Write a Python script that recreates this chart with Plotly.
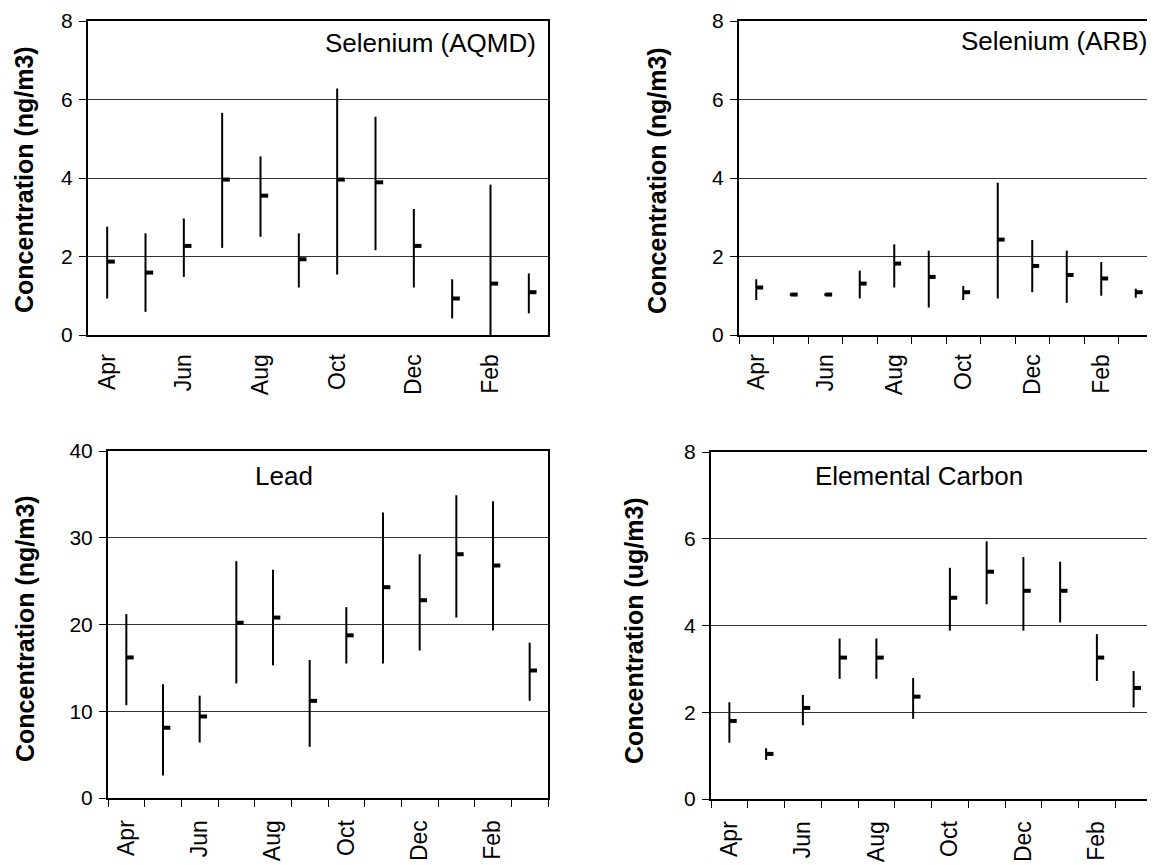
import plotly.graph_objects as go

months = ["Apr", "May", "Jun", "Jul", "Aug", "Sep", "Oct", "Nov", "Dec", "Jan", "Feb", "Mar"]
shown_labels = ["Apr", "Jun", "Aug", "Oct", "Dec", "Feb"]

se_aqmd_high = [2.76, 2.59, 2.97, 5.66, 4.55, 2.59, 6.28, 5.56, 3.21, 1.42, 3.83, 1.57]
se_aqmd_low = [0.93, 0.59, 1.48, 2.22, 2.50, 1.21, 1.54, 2.16, 1.21, 0.42, 0.00, 0.55]
se_aqmd_mean = [1.87, 1.59, 2.27, 3.96, 3.55, 1.93, 3.96, 3.89, 2.27, 0.93, 1.31, 1.09]

se_arb_high = [1.42, 1.06, 1.06, 1.64, 2.31, 2.15, 1.25, 3.88, 2.42, 2.15, 1.86, 1.18]
se_arb_low = [0.89, 1.00, 1.00, 0.93, 1.21, 0.70, 0.89, 0.93, 1.09, 0.82, 1.00, 0.95]
se_arb_mean = [1.21, 1.03, 1.03, 1.31, 1.82, 1.48, 1.09, 2.43, 1.76, 1.53, 1.44, 1.09]

lead_high = [21.2, 13.1, 11.8, 27.3, 26.3, 15.9, 22.0, 32.9, 28.1, 34.9, 34.2, 17.9]
lead_low = [10.7, 2.6, 6.4, 13.2, 15.3, 5.9, 15.5, 15.5, 17.0, 20.8, 19.3, 11.2]
lead_mean = [16.2, 8.1, 9.4, 20.2, 20.8, 11.2, 18.75, 24.3, 22.8, 28.1, 26.8, 14.7]

ec_high = [2.23, 1.17, 2.40, 3.70, 3.70, 2.79, 5.33, 5.94, 5.58, 5.47, 3.80, 2.95]
ec_low = [1.30, 0.90, 1.70, 2.77, 2.77, 1.85, 3.88, 4.49, 3.88, 4.07, 2.72, 2.11]
ec_mean = [1.80, 1.04, 2.10, 3.26, 3.26, 2.36, 4.64, 5.24, 4.80, 4.80, 3.26, 2.56]

FONT = "Liberation Sans, Arial, sans-serif"
W, H = 1155, 865
OFF = 8  # page body margin

panels = [
    dict(name="Selenium (AQMD)", unit="Concentration (ng/m3)", high=se_aqmd_high, low=se_aqmd_low,
         mean=se_aqmd_mean, ymax=8, dtick=2, box=(88, 548, 21, 335), xticks=False, standoff=8,
         title_pos=(538, 43, "right"), ytitle_pos=(24, 180)),
    dict(name="Selenium (ARB)", unit="Concentration (ng/m3)", high=se_arb_high, low=se_arb_low,
         mean=se_arb_mean, ymax=8, dtick=2, box=(739, 1153, 21, 335), xticks=True, standoff=8,
         title_pos=(1149, 41, "right"), ytitle_pos=(657, 181)),
    dict(name="Lead", unit="Concentration (ng/m3)", high=lead_high, low=lead_low,
         mean=lead_mean, ymax=40, dtick=10, box=(108, 548, 451, 798), xticks=True, standoff=11,
         title_pos=(284, 476, "center"), ytitle_pos=(25, 629)),
    dict(name="Elemental Carbon", unit="Concentration (ug/m3)", high=ec_high, low=ec_low,
         mean=ec_mean, ymax=8, dtick=2, box=(711, 1152, 452, 799), xticks=True, standoff=11,
         title_pos=(919, 476, "center"), ytitle_pos=(634, 631)),
]


def px(x):
    return (x - OFF) / W


def py(y):
    return 1 - (y - OFF) / H


fig = go.Figure()
annotations = []
layout = {}
tick_w = 0.2  # length of mean tick, in category units

for k, p in enumerate(panels, start=1):
    xa = "x" if k == 1 else f"x{k}"
    ya = "y" if k == 1 else f"y{k}"
    lx, ly = [], []
    mx, my = [], []
    for i in range(len(months)):
        lx += [i, i, None]
        ly += [p["low"][i], p["high"][i], None]
        mx += [i, i + tick_w, None]
        my += [p["mean"][i], p["mean"][i], None]
    fig.add_trace(go.Scatter(x=lx, y=ly, mode="lines", line=dict(color="black", width=2),
                             xaxis=xa, yaxis=ya, showlegend=False, hoverinfo="skip"))
    fig.add_trace(go.Scatter(x=mx, y=my, mode="lines", line=dict(color="black", width=4),
                             xaxis=xa, yaxis=ya, showlegend=False, hoverinfo="skip"))
    x0, x1, y0, y1 = p["box"]
    xkey = "xaxis" if k == 1 else f"xaxis{k}"
    ykey = "yaxis" if k == 1 else f"yaxis{k}"
    xaxis = dict(
        domain=[max(px(x0), 0), min(px(x1), 1)], anchor=ya, range=[-0.5, len(months) - 0.5],
        tickmode="array", tickvals=[months.index(m) for m in shown_labels], ticktext=shown_labels,
        tickangle=-90, ticks="", showgrid=False, zeroline=False,
        showline=True, linecolor="black", linewidth=2, mirror=True,
        tickfont=dict(family=FONT, size=23, color="black"), ticklabelstandoff=p["standoff"],
        automargin=False, fixedrange=True,
    )
    if p["xticks"]:
        xaxis["minor"] = dict(tickmode="array", tickvals=[i - 0.5 for i in range(len(months) + 1)],
                              ticks="outside", ticklen=7, tickwidth=1, tickcolor="black", showgrid=False)
    yaxis = dict(
        domain=[py(y1), py(y0)], anchor=xa, range=[0, p["ymax"]], dtick=p["dtick"],
        tickmode="linear", tick0=0,
        showgrid=True, gridcolor="#333333", gridwidth=1, zeroline=False,
        ticks="outside", ticklen=7, tickwidth=1, tickcolor="black",
        showline=True, linecolor="black", linewidth=2, mirror=True,
        tickfont=dict(family=FONT, size=21, color="black"), ticklabelstandoff=2,
        automargin=False, fixedrange=True,
    )
    layout[xkey] = xaxis
    layout[ykey] = yaxis
    tx, ty, anchor = p["title_pos"]
    annotations.append(dict(text=p["name"], x=px(tx), y=py(ty), xref="paper", yref="paper",
                            xanchor=anchor, yanchor="middle", showarrow=False,
                            font=dict(family=FONT, size=26, color="black")))
    ux, uy = p["ytitle_pos"]
    annotations.append(dict(text="<b>" + p["unit"] + "</b>", x=px(ux), y=py(uy),
                            xref="paper", yref="paper", xanchor="center", yanchor="middle",
                            textangle=-90, showarrow=False,
                            font=dict(family=FONT, size=25, color="black")))

fig.update_layout(
    width=W, height=H, margin=dict(l=0, r=0, t=0, b=0, autoexpand=False),
    paper_bgcolor="white", plot_bgcolor="white",
    annotations=annotations, **layout,
)

fig.write_html("out.html")
